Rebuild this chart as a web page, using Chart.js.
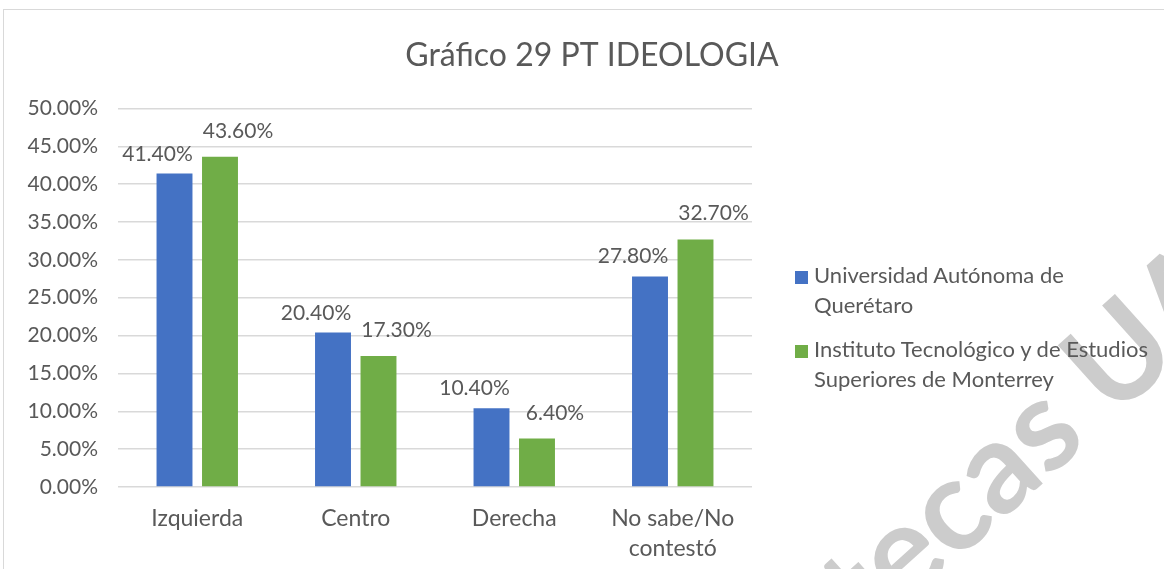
<!DOCTYPE html>
<html>
<head>
<meta charset="utf-8">
<script src="https://cdn.jsdelivr.net/npm/chart.js@4"></script>
<style>
  body { margin: 0; background: #fff; font-family: Lato, "Open Sans", sans-serif; }
  #wrap {
    position: absolute; left: 3px; top: 9px;
    width: 1161px; height: 560px;
    border-left: 1px solid #d9d9d9; border-top: 1px solid #d9d9d9;
  }
  #chartBox { position: absolute; left: 0; top: 0; width: 1160px; height: 559px; }
  .legend-item {
    position: absolute; left: 794px; color: #595959;
    font-size: 22px; line-height: 30px; padding-left: 20px;
  }
  .legend-item span.box {
    position: absolute; left: 1px; top: 11px; width: 13px; height: 13px;
  }
</style>
</head>
<body>
<div id="wrap">
  <div id="chartBox"><canvas id="chart"></canvas></div>
</div>
<div id="legend"></div>
<script>
const categories = ['Izquierda', 'Centro', 'Derecha', ['No sabe/No', 'contestó']];
const seriesNames = [
  ['Universidad Autónoma de', 'Querétaro'],
  ['Instituto Tecnológico y de Estudios', 'Superiores de Monterrey']
];
const seriesColors = ['#4472C4', '#70AD47'];
const uaqValues = [41.4, 20.4, 10.4, 27.8];
const itesmValues = [43.6, 17.3, 6.4, 32.7];
const yTicks = [0, 5, 10, 15, 20, 25, 30, 35, 40, 45, 50];

const FONT = 'Lato, "Open Sans", sans-serif';
const TEXT = '#595959';

// legend as html (two-line labels)
const legendTops = [260, 334];
document.getElementById('legend').innerHTML = seriesNames.map((name, i) =>
  `<div class="legend-item" style="top:${legendTops[i]}px"><span class="box" style="background:${seriesColors[i]}"></span>${name.join('<br>')}</div>`
).join('');

// value labels above bars
const valueLabels = {
  id: 'valueLabels',
  afterDatasetsDraw(chart) {
    const ctx = chart.ctx;
    ctx.save();
    ctx.font = '21px ' + FONT;
    ctx.fillStyle = TEXT;
    ctx.textAlign = 'center';
    ctx.textBaseline = 'alphabetic';
    chart.data.datasets.forEach((ds, i) => {
      const dx = i === 0 ? -17 : 18;
      const dy = i === 0 ? 13 : 19;
      chart.getDatasetMeta(i).data.forEach((bar, j) => {
        ctx.fillText(ds.data[j].toFixed(2) + '%', bar.x + dx, bar.y - dy);
      });
    });
    ctx.restore();
  }
};

// faint watermark
const watermark = {
  id: 'watermark',
  beforeDraw(chart) {
    const ctx = chart.ctx;
    ctx.save();
    ctx.font = 'bold 128px ' + FONT;
    const wBib = ctx.measureText('Bibliotecas').width;
    const wS = ctx.measureText('s').width;
    ctx.translate(1069 - 4, 460 - 10);
    ctx.rotate(-42 * Math.PI / 180);
    ctx.fillStyle = '#cccccc';
    ctx.textBaseline = 'alphabetic';
    ctx.fillText('Bibliotecas UAQ', -(wBib - wS / 2), 0);
    ctx.restore();
  }
};

new Chart(document.getElementById('chart'), {
  type: 'bar',
  data: {
    labels: categories,
    datasets: [
      { label: seriesNames[0].join(' '), data: uaqValues, backgroundColor: seriesColors[0], yAxisID: 'y' },
      { label: seriesNames[1].join(' '), data: itesmValues, backgroundColor: seriesColors[1], yAxisID: 'y' }
    ]
  },
  options: {
    responsive: true,
    maintainAspectRatio: false,
    animation: false,
    categoryPercentage: 0.574,
    barPercentage: 0.79,
    layout: { padding: { left: 16, right: 0, top: 0, bottom: 0 } },
    plugins: {
      title: {
        display: true,
        text: 'Gráfico 29 PT IDEOLOGIA',
        color: TEXT,
        font: { family: FONT, size: 32, weight: 'normal', lineHeight: 1.2 },
        padding: { top: 26, bottom: 34 }
      },
      legend: { display: false },
      tooltip: { enabled: false }
    },
    scales: {
      x: {
        grid: { display: false },
        border: { display: false },
        afterFit(axis) { axis.height = 82; },
        ticks: {
          color: TEXT, font: { family: FONT, size: 23, lineHeight: 1.3 },
          padding: 9, maxRotation: 0, autoSkip: false
        }
      },
      y: {
        min: 0, max: 50,
        afterBuildTicks(axis) { axis.ticks = yTicks.map(v => ({ value: v })); },
        afterFit(axis) { axis.width = 98; },
        grid: { color: '#d9d9d9', lineWidth: 1.5, drawTicks: false },
        border: { display: false },
        ticks: {
          color: TEXT, font: { family: FONT, size: 21 }, padding: 20,
          callback: v => v.toFixed(2) + '%'
        }
      },
      // empty right-hand axis reserves the space where the legend sits
      spacer: {
        position: 'right',
        min: 0, max: 50,
        grid: { display: false },
        border: { display: false },
        ticks: { display: false },
        afterFit(axis) { axis.width = 412; }
      }
    }
  },
  plugins: [valueLabels, watermark]
});
</script>
</body>
</html>
